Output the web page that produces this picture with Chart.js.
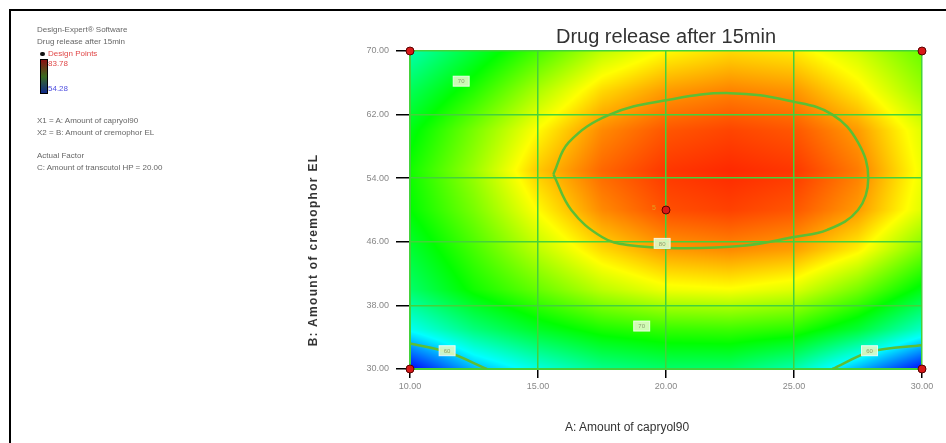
<!DOCTYPE html>
<html>
<head>
<meta charset="utf-8">
<script src="https://cdn.jsdelivr.net/npm/chart.js@4/dist/chart.umd.min.js"></script>
<style>
  html, body { margin: 0; padding: 0; background: #fff; }
  #wrap { position: relative; width: 946px; height: 443px; overflow: hidden; font-family: "Liberation Sans", Arial, sans-serif; }
  #frame { position: absolute; left: 9px; top: 9px; width: 960px; height: 460px; border-left: 2px solid #000; border-top: 2px solid #000; }
  #chart { position: absolute; left: 0; top: 0; }
  .info { position: absolute; left: 37px; font-size: 8px; color: #666; white-space: nowrap; line-height: 10px; }
  .red { color: #e04848; }
  .blue { color: #5050e0; }
  #bar { position: absolute; left: 40px; top: 59px; width: 6px; height: 33px; border: 1px solid #000;
         background: linear-gradient(#8a1010, #3a6a20 50%, #102a8a); }
  #dp { position: absolute; left: 40px; top: 52px; width: 5px; height: 4px; background: #111; border-radius: 2px; }
  #xt { position: absolute; left: 565px; top: 420px; font-size: 12px; color: #333; white-space: nowrap; }
  #yt { position: absolute; left: 313px; top: 250px; font-size: 12px; font-weight: bold; color: #333; white-space: nowrap;
        transform: translate(-50%, -50%) rotate(-90deg); letter-spacing: 1.3px; }
</style>
</head>
<body>
<div id="wrap">
  <canvas id="chart" width="946" height="443"></canvas>
  <div id="frame"></div>
  <div class="info" style="top:25px">Design-Expert® Software</div>
  <div class="info" style="top:37px">Drug release after 15min</div>
  <div id="dp"></div>
  <div class="info red" style="top:49px; left:48px">Design Points</div>
  <div id="bar"></div>
  <div class="info red" style="top:59px; left:48px">83.78</div>
  <div class="info blue" style="top:84px; left:48px">54.28</div>
  <div class="info" style="top:116px">X1 = A: Amount of capryol90</div>
  <div class="info" style="top:128px">X2 = B: Amount of cremophor EL</div>
  <div class="info" style="top:151px">Actual Factor</div>
  <div class="info" style="top:163px">C: Amount of transcutol HP = 20.00</div>
  <div id="xt">A: Amount of capryol90</div>
  <div id="yt">B: Amount of cremophor EL</div>
</div>
<script>
// Faktorstufen (Achsen)
const aLevels = [10, 12.5, 15, 17.5, 20, 22.5, 25, 27.5, 30];
const bLevels = [30, 35, 40, 45, 50, 55, 60, 65, 70];

// Geschätzte Response-Werte (Drug release nach 15 min), eine Zeile je B-Stufe
const rowB30 = [54.3, 59.5, 62.5, 65.0, 66.0, 66.0, 64.0, 59.5, 54.5];
const rowB35 = [62.0, 65.5, 68.0, 69.8, 70.6, 70.8, 70.2, 67.5, 63.3];
const rowB40 = [66.0, 69.5, 72.0, 74.5, 76.0, 76.3, 75.5, 72.5, 68.5];
const rowB45 = [67.5, 71.0, 74.5, 77.5, 79.3, 79.8, 79.2, 76.8, 72.5];
const rowB50 = [69.0, 72.5, 76.5, 79.8, 81.5, 81.9, 81.3, 79.3, 75.5];
const rowB55 = [69.5, 73.5, 78.0, 80.8, 82.2, 82.6, 82.2, 80.2, 76.0];
const rowB60 = [68.5, 72.5, 76.5, 79.8, 81.3, 81.8, 81.3, 79.3, 75.5];
const rowB65 = [66.5, 70.0, 74.0, 77.5, 79.3, 80.0, 79.5, 77.0, 73.5];
const rowB70 = [64.0, 67.5, 71.0, 74.5, 76.5, 77.5, 77.0, 75.0, 72.0];
const responseRows = [rowB30, rowB35, rowB40, rowB45, rowB50, rowB55, rowB60, rowB65, rowB70];
const responseMin = 54.28;
const responseMax = 83.78;

// Konturlinie 80 (Ellipse)
const contour80A = [15.6, 16.2, 17.8, 20.0, 22.5, 25.0, 26.5, 27.5, 27.9, 27.5, 26.3, 25.0, 23.0, 20.5, 18.5, 17.5, 16.3, 15.6];
const contour80B = [54.5, 58.5, 62.0, 63.8, 64.7, 63.6, 62.0, 58.5, 54.0, 50.0, 47.5, 46.6, 45.5, 45.2, 45.6, 46.6, 50.0, 54.5];
// Konturlinien 60 in den unteren Ecken
const contour60LeftA = [10.0, 11.5, 13.0];
const contour60LeftB = [33.2, 32.1, 30.0];
const contour60RightA = [30.0, 28.0, 26.5];
const contour60RightB = [33.0, 32.2, 30.0];

// Konturbeschriftungen
const labelA = [12.0, 19.85, 19.05, 11.45, 27.95];
const labelB = [66.2, 45.8, 35.4, 32.3, 32.3];
const labelText = ["70", "80", "70", "60", "60"];

// Design-Punkte
const designA = [10, 10, 30, 30, 20];
const designB = [30, 70, 70, 30, 50];
const designCount = ["", "", "", "", "5"];

// Tick-Beschriftungen
const xTicks = [10, 15, 20, 25, 30];
const yTicks = [30, 38, 46, 54, 62, 70];

function toXY(xs, ys) {
    return xs.map((x, i) => ({ x: x, y: ys[i] }));
}

// Wert an (a, b) aus dem Raster bilinear bestimmen (nur fürs Einfärben)
function sampleResponse(a, b) {
    const fa = (a - aLevels[0]) / (aLevels[1] - aLevels[0]);
    const fb = (b - bLevels[0]) / (bLevels[1] - bLevels[0]);
    const i = Math.max(0, Math.min(aLevels.length - 2, Math.floor(fa)));
    const j = Math.max(0, Math.min(bLevels.length - 2, Math.floor(fb)));
    const u = Math.max(0, Math.min(1, fa - i));
    const v = Math.max(0, Math.min(1, fb - j));
    const r0 = responseRows[j], r1 = responseRows[j + 1];
    const top = r0[i] * (1 - u) + r0[i + 1] * u;
    const bot = r1[i] * (1 - u) + r1[i + 1] * u;
    return top * (1 - v) + bot * v;
}

// Farbskala blau -> cyan -> grün -> gelb -> rot
const colorStops = [[0, 0, 255], [0, 255, 255], [0, 255, 0], [255, 255, 0], [255, 0, 0]];
function colorFor(value) {
    let t = (value - responseMin) / (responseMax - responseMin);
    t = Math.max(0, Math.min(1, t)) * (colorStops.length - 1);
    const k = Math.min(colorStops.length - 2, Math.floor(t));
    const f = t - k;
    const c0 = colorStops[k], c1 = colorStops[k + 1];
    return [0, 1, 2].map(n => Math.round(c0[n] + (c1[n] - c0[n]) * f));
}

const heatmapPlugin = {
    id: "heatmap",
    beforeDraw(chart) {
        const { ctx, chartArea, scales } = chart;
        const w = Math.round(chartArea.right - chartArea.left);
        const h = Math.round(chartArea.bottom - chartArea.top);
        const img = ctx.createImageData(w, h);
        for (let py = 0; py < h; py++) {
            const b = scales.y.getValueForPixel(chartArea.top + py + 0.5);
            for (let px = 0; px < w; px++) {
                const a = scales.x.getValueForPixel(chartArea.left + px + 0.5);
                const c = colorFor(sampleResponse(a, b));
                const idx = (py * w + px) * 4;
                img.data[idx] = c[0];
                img.data[idx + 1] = c[1];
                img.data[idx + 2] = c[2];
                img.data[idx + 3] = 255;
            }
        }
        ctx.putImageData(img, Math.round(chartArea.left), Math.round(chartArea.top));
    }
};

const labelPlugin = {
    id: "contourLabels",
    afterDatasetsDraw(chart) {
        const { ctx, scales } = chart;
        ctx.save();
        ctx.font = "6px 'Liberation Sans', Arial, sans-serif";
        ctx.textAlign = "center";
        ctx.textBaseline = "middle";
        labelText.forEach((txt, i) => {
            const x = scales.x.getPixelForValue(labelA[i]);
            const y = scales.y.getPixelForValue(labelB[i]);
            ctx.fillStyle = "rgba(225, 250, 200, 0.9)";
            ctx.fillRect(x - 8, y - 5, 16, 10);
            ctx.strokeStyle = "rgba(255, 255, 255, 0.8)";
            ctx.lineWidth = 1;
            ctx.strokeRect(x - 8, y - 5, 16, 10);
            ctx.fillStyle = "#8aa070";
            ctx.fillText(txt, x, y + 0.5);
        });
        // Anzahl der Wiederholungen am Zentralpunkt
        ctx.font = "7px 'Liberation Sans', Arial, sans-serif";
        ctx.fillStyle = "#e0a020";
        designCount.forEach((txt, i) => {
            if (!txt) return;
            const x = scales.x.getPixelForValue(designA[i]);
            const y = scales.y.getPixelForValue(designB[i]);
            ctx.fillText(txt, x - 12, y - 2);
        });
        ctx.restore();
    }
};

const contourStyle = {
    showLine: true,
    borderColor: "#5cbf34",
    borderWidth: 2.5,
    pointRadius: 0,
    fill: false
};

new Chart(document.getElementById("chart").getContext("2d"), {
    type: "scatter",
    data: {
        datasets: [
            Object.assign({ label: "80", data: toXY(contour80A, contour80B), tension: 0.4 }, contourStyle),
            Object.assign({ label: "60a", data: toXY(contour60LeftA, contour60LeftB), tension: 0.3 }, contourStyle),
            Object.assign({ label: "60b", data: toXY(contour60RightA, contour60RightB), tension: 0.3 }, contourStyle),
            {
                label: "Design Points",
                data: toXY(designA, designB),
                pointRadius: 4,
                pointHoverRadius: 4,
                backgroundColor: "#d81818",
                borderColor: "#5a0000",
                borderWidth: 1,
                clip: false
            }
        ]
    },
    options: {
        responsive: false,
        animation: false,
        events: [],
        layout: { padding: { left: 340, right: 24, top: 25, bottom: 44 } },
        plugins: {
            legend: { display: false },
            tooltip: { enabled: false },
            title: {
                display: true,
                fullSize: false,
                text: "Drug release after 15min",
                color: "#333",
                font: { size: 20, family: "'Liberation Sans', Arial, sans-serif", weight: "normal", lineHeight: 1.2 },
                padding: { top: 0, bottom: 2 }
            }
        },
        scales: {
            x: {
                type: "linear",
                min: 10,
                max: 30,
                afterBuildTicks: scale => { scale.ticks = xTicks.map(v => ({ value: v })); },
                afterFit: scale => { scale.height = 30; },
                ticks: {
                    callback: v => Number(v).toFixed(2),
                    color: "#888",
                    font: { size: 9, family: "'Liberation Sans', Arial, sans-serif" },
                    padding: 3,
                    maxRotation: 0
                },
                grid: { color: "#44d23a", lineWidth: 1.5, tickColor: "#000", tickLength: 9, tickWidth: 1.5 },
                border: { color: "#44d23a", width: 2 }
            },
            y: {
                type: "linear",
                min: 30,
                max: 70,
                afterBuildTicks: scale => { scale.ticks = yTicks.map(v => ({ value: v })); },
                afterFit: scale => { scale.width = 70; },
                ticks: {
                    callback: v => Number(v).toFixed(2),
                    color: "#888",
                    font: { size: 9, family: "'Liberation Sans', Arial, sans-serif" },
                    padding: 7
                },
                grid: { color: "#44d23a", lineWidth: 1.5, tickColor: "#000", tickLength: 14, tickWidth: 1.5 },
                border: { color: "#44d23a", width: 2 }
            }
        }
    },
    plugins: [heatmapPlugin, labelPlugin]
});
</script>
</body>
</html>
